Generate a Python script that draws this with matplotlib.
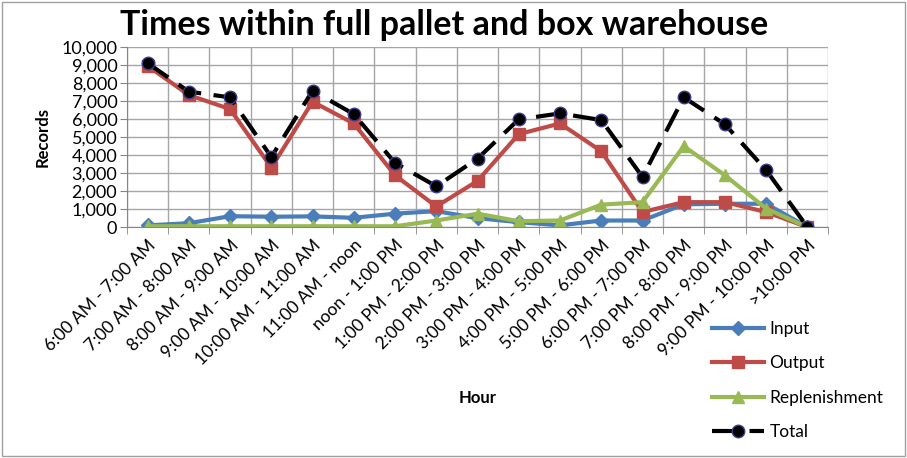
import numpy as np
import matplotlib.pyplot as plt
from matplotlib.patches import Rectangle

plt.rcParams['font.family'] = ['Lato', 'DejaVu Sans']

hours = ['6:00 AM - 7:00 AM', '7:00 AM - 8:00 AM', '8:00 AM - 9:00 AM',
         '9:00 AM - 10:00 AM', '10:00 AM - 11:00 AM', '11:00 AM - noon',
         'noon - 1:00 PM', '1:00 PM - 2:00 PM', '2:00 PM - 3:00 PM',
         '3:00 PM - 4:00 PM', '4:00 PM - 5:00 PM', '5:00 PM - 6:00 PM',
         '6:00 PM - 7:00 PM', '7:00 PM - 8:00 PM', '8:00 PM - 9:00 PM',
         '9:00 PM - 10:00 PM', '>10:00 PM']
inp = [100, 220, 610, 580, 600, 520, 750, 890, 500, 280, 100, 370, 370, 1270, 1300, 1300, 0]
outp = [8960, 7340, 6560, 3310, 6970, 5760, 2880, 1150, 2570, 5170, 5760, 4220, 840, 1390, 1390, 840, 0]
repl = [50, 50, 50, 50, 50, 50, 50, 370, 750, 330, 370, 1250, 1390, 4500, 2880, 1030, 0]
total = [9110, 7530, 7210, 3900, 7580, 6280, 3570, 2270, 3810, 5990, 6320, 5950, 2790, 7210, 5710, 3160, 0]

fig = plt.figure(figsize=(9.07, 4.58), dpi=100)
ax = fig.add_axes([0.140, 0.504, 0.773, 0.393])
x = np.arange(len(hours))

ax.plot(x, inp, color='#4A7EBB', lw=3, marker='D', ms=7, label='Input')
ax.plot(x, outp, color='#BE4B48', lw=3, marker='s', ms=8, label='Output')
ax.plot(x, repl, color='#98B954', lw=3, marker='^', ms=9, label='Replenishment')
ax.plot(x, total, color='black', lw=3, ls=(0, (6, 3)), marker='o', ms=9,
        mfc='black', mec='#3B3B8F', mew=1, label='Total')

ax.set_xlim(-0.5, len(hours) - 0.5)
ax.set_ylim(0, 10000)
ax.set_yticks(np.arange(0, 10001, 1000))
ax.set_yticklabels([f'{v:,}' for v in range(0, 10001, 1000)], fontsize=13)
ax.set_xticks(x)
ax.set_xticklabels(hours, rotation=45, ha='right', rotation_mode='anchor', fontsize=12.5)
ax.set_xticks(np.arange(-0.5, len(hours), 1), minor=True)
ax.tick_params(axis='x', which='major', length=0, pad=7)
ax.tick_params(axis='x', which='minor', length=5, color='#868686')
ax.tick_params(axis='y', length=5, color='#868686', pad=2)
ax.grid(True, which='minor', axis='x', color='#A6A6A6', lw=1)
ax.grid(True, which='major', axis='y', color='#A6A6A6', lw=1)
ax.set_axisbelow(True)
for s in ['top', 'right']:
    ax.spines[s].set_visible(False)
ax.spines['left'].set_color('#868686')
ax.spines['bottom'].set_color('#868686')

ax.set_ylabel('Records', fontsize=12, fontweight='bold', labelpad=8)
fig.text(0.527, 0.13, 'Hour', fontsize=12, fontweight='bold', ha='center', va='center')
fig.text(0.49, 0.945, 'Times within full pallet and box warehouse', fontsize=24.5,
         fontweight='bold', ha='center', va='center')

fig.legend(loc='center left', bbox_to_anchor=(0.785, 0.169), frameon=False,
           fontsize=12.5, handlelength=3.0, labelspacing=1.05, handletextpad=0.3,
           borderpad=0, borderaxespad=0)

fig.patches.append(Rectangle((0.002, 0.004), 0.996, 0.992, transform=fig.transFigure,
                             fill=False, ec='#A0A0A0', lw=1))
fig.savefig('out.png', dpi=100)
